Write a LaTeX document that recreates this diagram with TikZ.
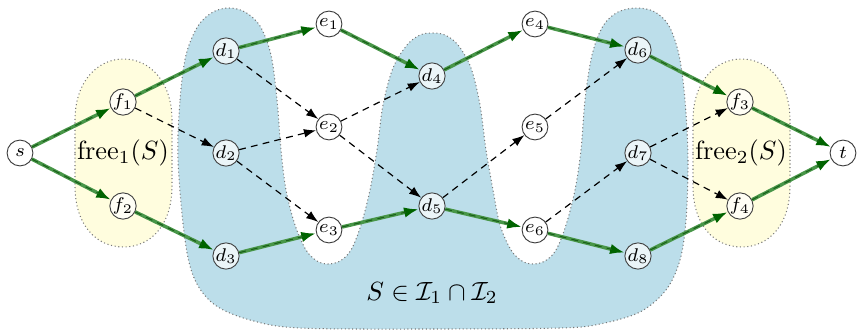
\documentclass[tikz,border=0pt]{standalone}
\usetikzlibrary{arrows.meta}
\definecolor{blobblue}{RGB}{188,222,234}
\definecolor{blobyellow}{RGB}{255,253,222}
\definecolor{gline}{RGB}{72,150,72}
\definecolor{gdark}{RGB}{25,95,25}
\definecolor{gtip}{RGB}{0,100,0}
\definecolor{blobedge}{RGB}{120,120,120}
\begin{document}
\begin{tikzpicture}[x=0.38pt, y=-0.38pt,
  vtx/.style={circle, draw=black!75, line width=0.35pt, fill=white, fill opacity=0.7, text opacity=1, minimum size=9.8pt, inner sep=0pt, font=\scriptsize},
  blob/.style={draw=blobedge, densely dotted, line width=0.4pt},
  dedge/.style={draw=black, dash pattern=on 2.6pt off 2pt, line width=0.45pt, -{Latex[length=4.6pt, width=3.3pt]}},
  gedge/.style={draw=gline, line width=1.35pt, -{Latex[length=5.6pt, width=4pt, color=gtip]}},
  gdash/.style={draw=gdark, dash pattern=on 2.6pt off 2pt, line width=0.4pt, shorten >=5pt},
  biglabel/.style={font=\normalsize, inner sep=0pt}
]
\useasboundingbox (0,0) rectangle (857,332);

% blue region S
\draw[blob, fill=blobblue] plot[smooth cycle, tension=0.55] coordinates {
  (178,160) (180,100) (186,55) (198,26) (213,12) (229,8) (245,12) (260,26) (271,55) (277,100) (281,150)
  (286,190) (295,225) (306,250) (317,261) (328,264) (340,261) (351,250) (361,225) (370,190)
  (377,150) (383,105) (393,68) (407,45) (420,35) (432,33) (445,35) (458,45) (471,68) (480,105) (486,150) (493,190)
  (500,225) (511,250) (522,261) (533,264) (545,261) (556,250) (566,225) (575,190)
  (581,150) (585,100) (592,55) (603,26) (618,12) (637,8) (655,12) (669,26) (679,55) (685,100) (688,160)
  (686,220) (680,260) (666,290) (640,312) (600,324) (560,328)
  (430,329) (300,328) (250,320) (215,305) (195,280) (185,240)
};

% yellow regions free_1(S), free_2(S)
\draw[blob, fill=blobyellow] (75,153) -- (75,120) .. controls (75,82) and (97,59) .. (123.5,59)
  .. controls (150,59) and (172,82) .. (172,120) -- (172,186)
  .. controls (172,226) and (150,247) .. (123.5,247)
  .. controls (97,247) and (75,226) .. (75,186) -- cycle;
\draw[blob, fill=blobyellow] (693,153) -- (693,120) .. controls (693,82) and (715,59) .. (741.5,59)
  .. controls (768,59) and (790,82) .. (790,120) -- (790,186)
  .. controls (790,226) and (768,247) .. (741.5,247)
  .. controls (715,247) and (693,226) .. (693,186) -- cycle;

% labels
\node[biglabel] (free1) at (123,153) {$\mathrm{free}_1(S)$};
\node[biglabel] (free2) at (741,153) {$\mathrm{free}_2(S)$};
\node[biglabel] (sinI) at (432,293) {$S\in\mathcal{I}_1\cap\mathcal{I}_2$};

% vertices
\node[vtx] (s)  at (20,153)  {$s$};
\node[vtx] (f1) at (123,102) {$f_1$};
\node[vtx] (f2) at (123,206) {$f_2$};
\node[vtx] (d1) at (226,51)  {$d_1$};
\node[vtx] (d2) at (226,153) {$d_2$};
\node[vtx] (d3) at (226,256) {$d_3$};
\node[vtx] (e1) at (329,24)  {$e_1$};
\node[vtx] (e2) at (329,127) {$e_2$};
\node[vtx] (e3) at (329,230) {$e_3$};
\node[vtx] (d4) at (432,76)  {$d_4$};
\node[vtx] (d5) at (432,206) {$d_5$};
\node[vtx] (e4) at (535,24)  {$e_4$};
\node[vtx] (e5) at (535,127) {$e_5$};
\node[vtx] (e6) at (535,230) {$e_6$};
\node[vtx] (d6) at (638,50)  {$d_6$};
\node[vtx] (d7) at (638,153) {$d_7$};
\node[vtx] (d8) at (638,256) {$d_8$};
\node[vtx] (f3) at (740,102) {$f_3$};
\node[vtx] (f4) at (740,206) {$f_4$};
\node[vtx] (t)  at (843,153) {$t$};

% exchange-graph edges (dashed)
\foreach \a/\b in {f1/d2, d1/e2, d2/e2, d2/e3, e2/d4, e2/d5, d5/e5, e5/d6, e6/d7, d7/f3, d7/f4}
  \draw[dedge] (\a) -- (\b);

% augmenting paths (green)
\foreach \a/\b in {s/f1, s/f2, f1/d1, f2/d3, d1/e1, e1/d4, d4/e4, e4/d6, d6/f3, f3/t,
                   d3/e3, e3/d5, d5/e6, e6/d8, d8/f4, f4/t}
{
  \draw[gedge] (\a) -- (\b);
  \draw[gdash] (\a) -- (\b);
}
\end{tikzpicture}
\end{document}
